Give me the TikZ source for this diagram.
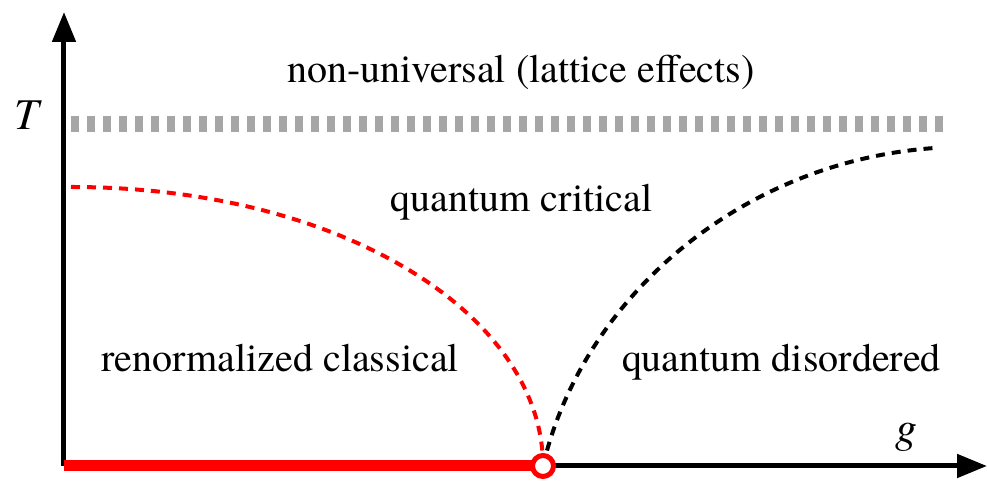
\documentclass[tikz,border=0pt]{standalone}
\usepackage{fontspec}
\setmainfont{texgyretermes}[Extension=.otf, UprightFont=*-regular, ItalicFont=*-italic, BoldFont=*-bold]
\usepackage{xcolor}
\usepackage{tikz}
\usetikzlibrary{arrows.meta}

\begin{document}
\begin{tikzpicture}[
    % Stili comuni per assi, linee di crossover e etichette delle regioni.
    axis/.style={draw, line width=0.1cm, -{Triangle[length=0.6cm, width=0.46cm]}},
    ordered/.style={draw=red, line width=0.22cm},
    crossover/.style={draw, line width=0.08cm, dash pattern=on 0.18cm off 0.14cm},
    cutoff/.style={draw=black!35, line width=0.33cm, dash pattern=on 0.16cm off 0.16cm},
    region/.style={font=\fontsize{22.8}{27}\selectfont, anchor=base, inner sep=0pt},
    axis label/.style={font=\itshape\fontsize{25}{30}\selectfont, anchor=base, inner sep=0pt},
    qcp/.style={circle, draw=red, fill=white, line width=0.1cm, minimum size=0.42cm, inner sep=0pt}
]
\useasboundingbox (-1.28, -0.42) rectangle (18.46, 9.32);

% Punti di riferimento: origine, estremi degli assi e punto critico quantistico.
\coordinate (O)    at (0, 0);
\coordinate (xend) at (18.46, 0);
\coordinate (yend) at (0, 9.08);
\coordinate (gc)   at (9.58, 0);
\coordinate (rc)   at (0.14, 5.58);
\coordinate (qd)   at (17.42, 6.36);
\coordinate (cutL) at (0.14, 6.84);
\coordinate (cutR) at (17.58, 6.84);

% Assi e fase ordinata a T=0.
\draw[axis] (O) -- (xend);
\draw[axis] (O) -- (yend);
\draw[ordered] (O) -- (gc);

% Limite superiore della regione universale.
\draw[cutoff] (cutL) -- (cutR);

% Linee di crossover dal punto critico.
\draw[crossover, red] (rc) .. controls (5.6, 5.58) and (9.58, 3.0) .. (gc);
\draw[crossover] (gc) .. controls (10.38, 3.4) and (13.58, 6.1) .. (qd);

\node[qcp] (qc) at (gc) {};

% Etichette degli assi e delle regioni.
\node[axis label] (Tlab) at (-0.74, 6.72) {T};
\node[axis label] (glab) at (16.84, 0.46) {g};

\node[region] (nonuniv)  at (9.14, 7.66) {non-universal (lattice effects)};
\node[region] (qcrit)    at (9.15, 5.08) {quantum critical};
\node[region] (renclass) at (4.32, 1.88) {renormalized classical};
\node[region] (qdis)     at (14.35, 1.88) {quantum disordered};
\end{tikzpicture}
\end{document}
